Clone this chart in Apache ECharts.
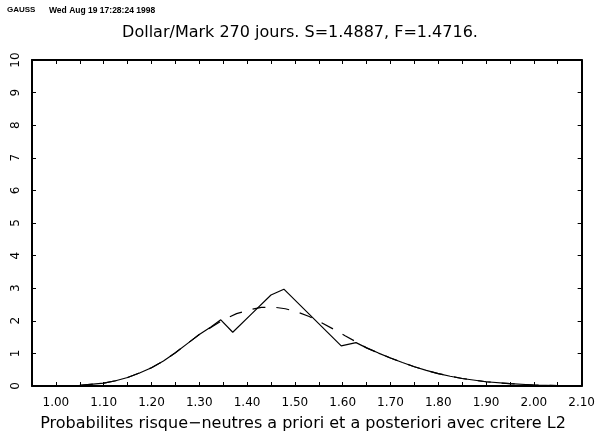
<!DOCTYPE html>
<html>
<head>
<meta charset="utf-8">
<script src="https://cdn.jsdelivr.net/npm/echarts@6/dist/echarts.min.js"></script>
<style>html,body{margin:0;padding:0;background:#fff;}#c{width:598px;height:437px;}</style>
</head>
<body>
<div id="c"></div>
<script>
// Posterior (solid) density
const postX = [1.00,1.05,1.10,1.125,1.15,1.175,1.20,1.225,1.25,1.275,1.30,1.325,1.345,1.37,1.41,1.45,1.477,1.597,1.628,1.65,1.675,1.70,1.725,1.75,1.775,1.80,1.825,1.85,1.90,1.95,2.00,2.05,2.08];
const postY = [0.00,0.02,0.09,0.16,0.26,0.40,0.56,0.77,1.02,1.30,1.58,1.82,2.03,1.65,2.22,2.79,2.97,1.23,1.33,1.17,1.01,0.86,0.72,0.59,0.48,0.38,0.30,0.23,0.13,0.07,0.03,0.01,0.00];
// Prior (dashed) density
const priorX = [1.00,1.05,1.10,1.125,1.15,1.175,1.20,1.225,1.25,1.275,1.30,1.325,1.35,1.378,1.406,1.43,1.455,1.48,1.505,1.53,1.555,1.58,1.605,1.63,1.65,1.675,1.70,1.725,1.75,1.775,1.80,1.825,1.85,1.90,1.95,2.00,2.05,2.08];
const priorY = [0.00,0.02,0.09,0.16,0.26,0.40,0.56,0.77,1.02,1.30,1.58,1.80,2.03,2.22,2.34,2.41,2.42,2.37,2.27,2.13,1.95,1.75,1.54,1.34,1.17,1.01,0.86,0.72,0.59,0.48,0.38,0.30,0.23,0.13,0.07,0.03,0.01,0.00];

const titleText = 'Dollar/Mark 270 jours. S=1.4887, F=1.4716.';
const xTitle = 'Probabilites risque\u2212neutres a priori et a posteriori avec critere L2';
const headerLeft = 'GAUSS';
const headerDate = 'Wed Aug 19 17:28:24 1998';

const xMin = 0.95, xMax = 2.10, xStep = 0.05;
const yMin = 0, yMax = 10, yStep = 1;

const chart = echarts.init(document.getElementById('c'), null, {renderer:'canvas'});
const zip = (a,b) => a.map((v,i)=>[v,b[i]]);
const tickStyle = {show:true, inside:true, length:4, lineStyle:{color:'#000', width:1}};
const lineAx = {show:true, onZero:false, lineStyle:{color:'#000', width:2}};
const fmtX = v => { const k = Math.round(v*100); return (k % 10 === 0) ? (k/100).toFixed(2) : ''; };

chart.setOption({
  animation:false,
  backgroundColor:'#fff',
  grid:{left:32, right:15, top:60, bottom:51, containLabel:false},
  xAxis:[
    {type:'value', position:'bottom', min:xMin, max:xMax, interval:xStep,
     axisLine:lineAx, axisTick:tickStyle, splitLine:{show:false},
     axisLabel:{show:true, margin:11, color:'#000', fontFamily:'DejaVu Sans', fontSize:12, formatter:fmtX, showMinLabel:true, showMaxLabel:true}},
    {type:'value', position:'top', min:xMin, max:xMax, interval:xStep,
     axisLine:lineAx, axisTick:tickStyle, splitLine:{show:false}, axisLabel:{show:false}}
  ],
  yAxis:[
    {type:'value', position:'left', min:yMin, max:yMax, interval:yStep,
     axisLine:lineAx, axisTick:tickStyle, splitLine:{show:false},
     axisLabel:{show:true, rotate:90, margin:10, color:'#000', fontFamily:'DejaVu Sans', fontSize:12}},
    {type:'value', position:'right', min:yMin, max:yMax, interval:yStep,
     axisLine:lineAx, axisTick:tickStyle, splitLine:{show:false}, axisLabel:{show:false}}
  ],
  series:[
    {type:'line', data:zip(priorX, priorY), showSymbol:false, symbol:'none',
     lineStyle:{color:'#000', width:1.2, type:[13,11]}},
    {type:'line', data:zip(postX, postY), showSymbol:false, symbol:'none',
     lineStyle:{color:'#000', width:1.2}}
  ],
  graphic:[
    {type:'text', left:7, top:6, style:{text:headerLeft, fill:'#000', font:'bold 8px "Liberation Sans"'}},
    {type:'text', left:49, top:6, style:{text:headerDate, fill:'#000', font:'bold 8.5px "Liberation Sans"'}},
    {type:'text', x:300, y:33, style:{text:titleText, fill:'#000', font:'16px "DejaVu Sans"', textAlign:'center', textVerticalAlign:'middle'}},
    {type:'text', x:303, y:424, style:{text:xTitle, fill:'#000', font:'16px "DejaVu Sans"', textAlign:'center', textVerticalAlign:'middle'}}
  ]
});
</script>
</body>
</html>
